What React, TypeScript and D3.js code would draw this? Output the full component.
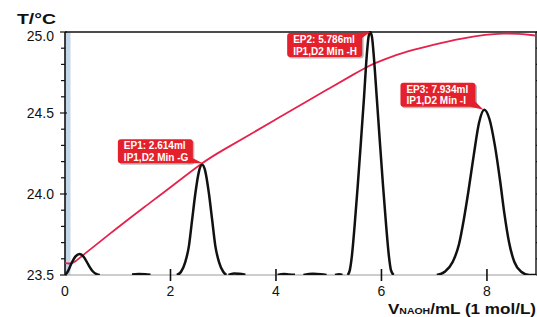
import React from 'react';
import * as d3 from 'd3';

// temperature curve (red)
const tempV = [0, 0.1, 0.2, 0.33, 1.0, 1.5, 2.0, 2.614, 3.0, 3.5, 4.0, 4.5, 5.0, 5.5, 5.786, 6.0, 6.5, 7.0, 7.5, 8.0, 8.3, 8.6, 8.93];
const tempT = [23.574, 23.568, 23.583, 23.62, 23.793, 23.919, 24.04, 24.198, 24.272, 24.366, 24.461, 24.556, 24.65, 24.744, 24.796, 24.824, 24.883, 24.923, 24.96, 24.985, 24.992, 24.99, 24.978];

// derivative curve (black), NaN = gap
const derivV = [
  0.0, 0.05, 0.12, 0.2, 0.28, 0.36, 0.44, 0.52, 0.6, 0.66, NaN,
  1.27, 1.4, 1.52, 1.62, NaN,
  2.12, 2.2, 2.28, 2.35, 2.41, 2.47, 2.54, 2.6, 2.66, 2.73, 2.79, 2.85, 2.92, 3.0, 3.06, NaN,
  3.1, 3.2, 3.3, 3.42, NaN,
  4.03, 4.15, 4.25, 4.36, NaN,
  4.52, 4.7, 4.85, 4.96, NaN,
  5.12, 5.2, 5.26, NaN,
  5.36, 5.4, 5.44, 5.49, 5.55, 5.61, 5.67, 5.72, 5.755, 5.786, 5.82, 5.855, 5.91, 5.97, 6.03, 6.09, 6.14, 6.18, 6.23, NaN,
  7.05, 7.2, 7.35, 7.47, 7.56, 7.65, 7.75, 7.85, 7.95, 8.05, 8.15, 8.25, 8.33, 8.42, 8.52, 8.65, 8.8, 8.93,
];
const derivT = [
  23.5, 23.52, 23.57, 23.615, 23.63, 23.61, 23.565, 23.525, 23.505, 23.5, NaN,
  23.503, 23.506, 23.505, 23.501, NaN,
  23.5, 23.52, 23.58, 23.68, 23.84, 24.0, 24.14, 24.18, 24.14, 24.0, 23.84, 23.68, 23.58, 23.52, 23.5, NaN,
  23.5, 23.509, 23.507, 23.501, NaN,
  23.5, 23.506, 23.503, 23.501, NaN,
  23.5, 23.507, 23.504, 23.5, NaN,
  23.5, 23.505, 23.5, NaN,
  23.5, 23.53, 23.62, 23.8, 24.05, 24.32, 24.6, 24.85, 24.97, 25.0, 24.97, 24.85, 24.6, 24.32, 24.05, 23.8, 23.62, 23.53, 23.5, NaN,
  23.5, 23.52, 23.58, 23.69, 23.84, 24.02, 24.24, 24.44, 24.52, 24.46, 24.3, 24.08, 23.88, 23.7, 23.58, 23.52, 23.5, 23.5,
];

// end point callouts
const epNames = ['EP1: 2.614ml', 'EP2: 5.786ml', 'EP3: 7.934ml'];
const epMethods = ['IP1,D2 Min -G', 'IP1,D2 Min -H', 'IP1,D2 Min -I'];
const epV = [2.614, 5.786, 7.934];
const epT = [24.19, 25.0, 24.52];

const xTicks = [0, 2, 4, 6, 8];
const yTicks = [23.5, 24.0, 24.5, 25.0];

const W = 537;
const H = 317;
const left = 65, right = 536, top = 32, bottom = 275;
const RED = '#e6224c';
const BOX = '#e3202b';
const font = '"Liberation Sans", Arial, Helvetica, sans-serif';

const App: React.FC = () => {
  const x = d3.scaleLinear().domain([0, 8.93]).range([left, right]);
  const y = d3.scaleLinear().domain([23.5, 25.0]).range([bottom, top]);

  const temp = tempV.map((v, i) => ({ v, t: tempT[i] }));
  const deriv = derivV.map((v, i) => ({ v, t: derivT[i] }));

  const line = d3.line<{ v: number; t: number }>()
    .defined(d => !isNaN(d.v) && !isNaN(d.t))
    .x(d => x(d.v))
    .y(d => y(d.t))
    .curve(d3.curveMonotoneX);

  const smooth = d3.line<{ v: number; t: number }>()
    .x(d => x(d.v))
    .y(d => y(d.t))
    .curve(d3.curveBasis);

  const minor = d3.range(0, 16).map(i => 23.5 + i * 0.1);

  const bw = 75, bh = 24;

  return (
    <svg width={W} height={H} style={{ position: 'absolute', left: 0, top: 0 }} fontFamily={font}>
      <defs>
        <clipPath id="plot">
          <rect x={left} y={top - 1} width={right - left} height={bottom - top + 1} />
        </clipPath>
      </defs>

      {/* blue start band */}
      <rect x={left} y={top} width={5.5} height={bottom - top} fill="#c4d7ea" />

      {/* frame */}
      <line x1={left} x2={right} y1={bottom} y2={bottom} stroke="#9a9a9a" strokeWidth={1} />
      <line x1={left} x2={right + 1} y1={top} y2={top} stroke="#111" strokeWidth={1.6} />
      <line x1={right} x2={right} y1={top} y2={bottom} stroke="#111" strokeWidth={1.4} />
      <line x1={left} x2={left} y1={top} y2={bottom} stroke="#111" strokeWidth={1.6} />

      {/* y ticks */}
      {minor.map((v, i) => {
        const major = i % 5 === 0;
        return (
          <g key={i}>
            <line x1={left - (major ? 5 : 4)} x2={left + (major ? 2 : 0)} y1={y(v)} y2={y(v)} stroke="#111" strokeWidth={1.2} />
            <line x1={right} x2={right + 4} y1={y(v)} y2={y(v)} stroke="#111" strokeWidth={1.2} />
          </g>
        );
      })}
      {yTicks.map(v => (
        <text key={v} x={54} y={y(v) + (v === 25 ? 8.5 : 5)} textAnchor="end" fontSize={14} fill="#111">
          {v.toFixed(1)}
        </text>
      ))}

      {/* x ticks */}
      {xTicks.map(v => (
        <g key={v}>
          {v > 0 && <line x1={x(v)} x2={x(v)} y1={bottom - 6} y2={bottom + 6} stroke="#111" strokeWidth={1.6} />}
          <text x={x(v)} y={296} textAnchor="middle" fontSize={14} fill="#111">{v}</text>
        </g>
      ))}

      {/* curves */}
      <g clipPath="url(#plot)">
        <path d={smooth(temp) || ''} fill="none" stroke={RED} strokeWidth={1.8} />
        <path d={line(deriv) || ''} fill="none" stroke="#111" strokeWidth={2.5} strokeLinejoin="round" />
      </g>

      {/* callouts */}
      {epNames.map((name, i) => {
        const ax = x(epV[i]);
        const ay = y(epT[i]);
        const below = i === 1;
        const bx = ax - (i === 0 ? 10 : 8) - bw;
        const by = below ? ay + 1 : ay - (i === 0 ? 0 : 3) - bh;
        const cornerY = below ? by : by + bh;
        const tail = below
          ? `M${bx + bw - 5},${by} L${ax},${ay} L${bx + bw},${by + 5} Z`
          : `M${bx + bw - 5},${cornerY} L${ax},${ay} L${bx + bw},${cornerY - 5} Z`;
        return (
          <g key={name}>
            <rect x={bx + 1.5} y={by + 1.5} width={bw} height={bh} rx={3} fill="rgba(0,0,0,0.28)" />
            <rect x={bx} y={by} width={bw} height={bh} rx={3} fill={BOX} />
            <path d={tail} fill={BOX} />
            <text x={bx + 6} y={by + 10} fontSize={10} fontWeight="bold" fill="#fff">{name}</text>
            <text x={bx + 6} y={by + 21.5} fontSize={10} fontWeight="bold" fill="#fff">{epMethods[i]}</text>
          </g>
        );
      })}

      {/* axis titles */}
      <text x={17} y={24} fontSize={15} fontWeight="bold" fill="#111" textLength={39} lengthAdjust="spacingAndGlyphs">T/°C</text>
      <text x={388} y={314} fontWeight="bold" fill="#111" textLength={148} lengthAdjust="spacingAndGlyphs">
        <tspan fontSize={15.5}>V</tspan>
        <tspan fontSize={9.5}>NAOH</tspan>
        <tspan fontSize={15.5}>/mL (1 mol/L)</tspan>
      </text>
    </svg>
  );
};

export default App;
